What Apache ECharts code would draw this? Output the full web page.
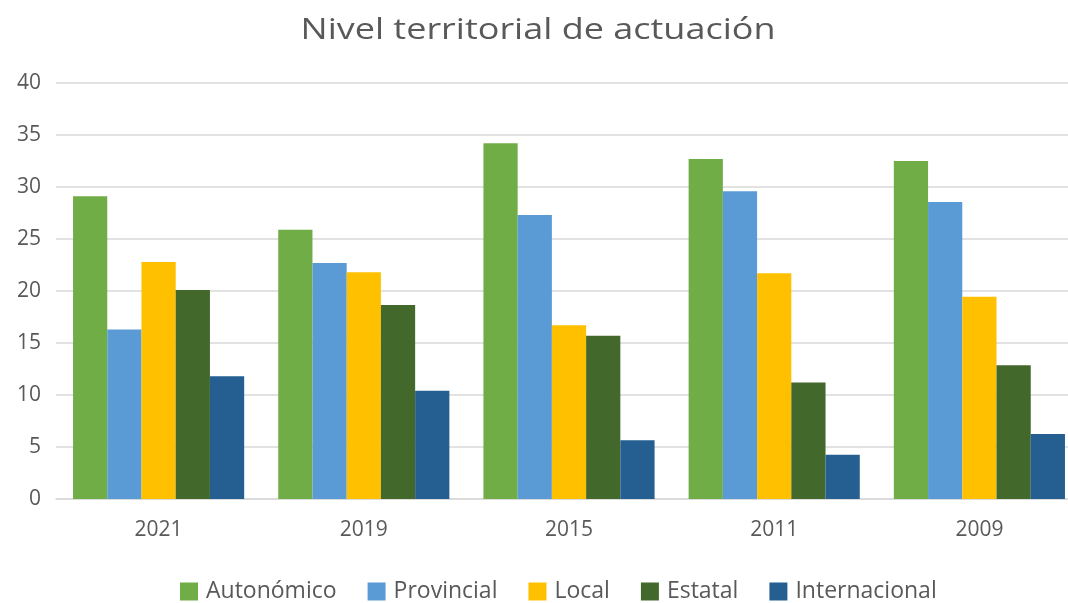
<!DOCTYPE html>
<html>
<head>
<meta charset="utf-8">
<script src="https://cdn.jsdelivr.net/npm/echarts@6/dist/echarts.min.js"></script>
<style>
  html, body { margin: 0; padding: 0; background: #fff; overflow: hidden; }
  /* the plot runs past the right edge in the original, so the canvas is wider than the window */
  #main { width: 1100px; height: 603px; }
</style>
</head>
<body>
<div id="main"></div>
<script>
  // datos
  var years = ['2021', '2019', '2015', '2011', '2009'];
  var autonomico    = [29.1, 25.9, 34.2, 32.7, 32.5];
  var provincial    = [16.3, 22.7, 27.3, 29.6, 28.55];
  var local         = [22.8, 21.8, 16.7, 21.7, 19.45];
  var estatal       = [20.1, 18.65, 15.7, 11.2, 12.85];
  var internacional = [11.8, 10.4, 5.65, 4.25, 6.25];
  var yTicks = [0, 5, 10, 15, 20, 25, 30, 35, 40];

  var names = ['Autonómico', 'Provincial', 'Local', 'Estatal', 'Internacional'];
  var values = [autonomico, provincial, local, estatal, internacional];
  var colors = ['#70AD47', '#5B9BD5', '#FFC000', '#43682B', '#255E91'];

  var font = '"Open Sans", "Noto Sans", sans-serif';

  var myChart = echarts.init(document.getElementById('main'));

  var series = names.map(function (n, i) {
    return {
      name: n,
      type: 'bar',
      data: values[i],
      barGap: '0%',
      barCategoryGap: '16.6%',
      itemStyle: { color: colors[i] }
    };
  });

  var option = {
    animation: false,
    backgroundColor: '#fff',
    color: colors,
    // titulo como texto grafico para poder ensancharlo un poco
    graphic: [{
      type: 'text',
      x: 538,
      y: 30,
      scaleX: 1.2,
      style: {
        text: 'Nivel territorial de actuación',
        fontFamily: font,
        fontSize: 30,
        fill: '#595959',
        textAlign: 'center',
        textVerticalAlign: 'middle'
      }
    }],
    legend: {
      data: names,
      top: 580,
      left: 180,
      padding: 0,
      itemWidth: 18,
      itemHeight: 18,
      itemGap: 31,
      icon: 'rect',
      textStyle: { fontFamily: font, fontSize: 23, color: '#595959', padding: [0, 0, 0, 3] }
    },
    grid: {
      left: 56,
      top: 83,
      width: 1026,
      height: 416
    },
    xAxis: {
      type: 'category',
      data: years,
      axisLine: { lineStyle: { color: '#d9d9d9', width: 1.5 } },
      axisTick: { show: false },
      axisLabel: { fontFamily: font, fontSize: 21, color: '#595959', margin: 21 }
    },
    yAxis: {
      type: 'value',
      min: yTicks[0],
      max: yTicks[yTicks.length - 1],
      interval: 5,
      axisLine: { show: false },
      axisTick: { show: false },
      splitLine: { lineStyle: { color: '#d9d9d9', width: 1.5 } },
      axisLabel: { fontFamily: font, fontSize: 21, color: '#595959', margin: 15 }
    },
    series: series
  };

  myChart.setOption(option);
</script>
</body>
</html>
